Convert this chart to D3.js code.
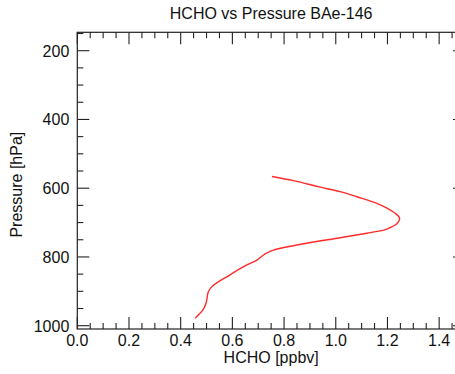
<!DOCTYPE html>
<html>
<head>
<meta charset="utf-8">
<script src="https://cdn.jsdelivr.net/npm/d3@7"></script>
<style>
  body { margin: 0; background: #fff; }
  svg { display: block; font-family: "Liberation Sans", Arial, Helvetica, sans-serif; }
</style>
</head>
<body>
<div id="chart"></div>
<script>
// profile: HCHO [ppbv] against pressure [hPa]
const hcho = [0.753, 0.836, 0.940, 1.017, 1.082, 1.159, 1.198, 1.230, 1.247, 1.243, 1.223, 1.185, 1.120, 1.017, 0.888, 0.759, 0.727, 0.695, 0.656, 0.591, 0.520, 0.507, 0.498, 0.488, 0.456];
const pressure = [566, 578, 597, 610, 625, 644, 658, 673, 688, 697, 710, 722, 731, 744, 760, 780, 791, 809, 823, 852, 887, 901, 935, 952, 978];

const xMajor = [0.0, 0.2, 0.4, 0.6, 0.8, 1.0, 1.2, 1.4];
const yMajor = [200, 400, 600, 800, 1000];

const W = 455, H = 374;
const plotL = 77.3, plotR = 465, plotT = 32.3, plotB = 329;

const x = d3.scaleLinear().domain([0, 1.5]).range([plotL, plotR]);
const y = d3.scaleLinear().domain([146.5, 1009.6]).range([plotT, plotB]);

const svg = d3.select("#chart").append("svg")
    .attr("width", W)
    .attr("height", H);

const axisColor = "#222";
const majorLen = 12, minorLen = 6;

// minor tick positions
const xMinor = d3.range(0, 1.5001, 0.05).filter(v => !xMajor.some(m => Math.abs(m - v) < 1e-6));
const yMinor = d3.range(150, 1001, 50).filter(v => !yMajor.includes(v));

// frame
svg.append("rect")
    .attr("x", plotL).attr("y", plotT)
    .attr("width", plotR - plotL).attr("height", plotB - plotT)
    .attr("fill", "none")
    .attr("stroke", axisColor)
    .attr("stroke-width", 1.2);

const ticks = svg.append("g").attr("stroke", axisColor).attr("stroke-width", 1.1);

function xTicks(vals, len) {
    vals.forEach(v => {
        ticks.append("line").attr("x1", x(v)).attr("x2", x(v)).attr("y1", plotB).attr("y2", plotB - len);
        ticks.append("line").attr("x1", x(v)).attr("x2", x(v)).attr("y1", plotT).attr("y2", plotT + len);
    });
}
function yTicks(vals, len) {
    vals.forEach(v => {
        ticks.append("line").attr("x1", plotL).attr("x2", plotL + len).attr("y1", y(v)).attr("y2", y(v));
        ticks.append("line").attr("x1", plotR).attr("x2", plotR - len).attr("y1", y(v)).attr("y2", y(v));
    });
}
xTicks(xMajor, majorLen);
xTicks(xMinor, minorLen);
yTicks(yMajor, majorLen);
yTicks(yMinor, minorLen);

// tick labels
svg.append("g").selectAll("text")
    .data(xMajor)
    .join("text")
    .attr("x", d => x(d))
    .attr("y", 346)
    .attr("text-anchor", "middle")
    .attr("font-size", 16)
    .attr("fill", "#111")
    .text(d => d.toFixed(1));

svg.append("g").selectAll("text")
    .data(yMajor)
    .join("text")
    .attr("x", plotL - 8)
    .attr("y", d => y(d) + 6)
    .attr("text-anchor", "end")
    .attr("font-size", 16)
    .attr("fill", "#111")
    .text(d => d);

// titles
svg.append("text")
    .attr("x", (plotL + plotR) / 2)
    .attr("y", 19)
    .attr("text-anchor", "middle")
    .attr("font-size", 16)
    .attr("fill", "#111")
    .text("HCHO vs Pressure BAe-146");

svg.append("text")
    .attr("x", (plotL + plotR) / 2)
    .attr("y", 363)
    .attr("text-anchor", "middle")
    .attr("font-size", 16)
    .attr("fill", "#111")
    .text("HCHO [ppbv]");

svg.append("text")
    .attr("transform", `translate(22, ${(plotT + plotB) / 2 + 4}) rotate(-90)`)
    .attr("text-anchor", "middle")
    .attr("font-size", 16)
    .attr("fill", "#111")
    .text("Pressure [hPa]");

// profile line
const line = d3.line()
    .x((d, i) => x(hcho[i]))
    .y(d => y(d))
    .curve(d3.curveMonotoneY);

svg.append("path")
    .datum(pressure)
    .attr("d", line)
    .attr("fill", "none")
    .attr("stroke", "#ff2a2a")
    .attr("stroke-width", 1.4);
</script>
</body>
</html>
